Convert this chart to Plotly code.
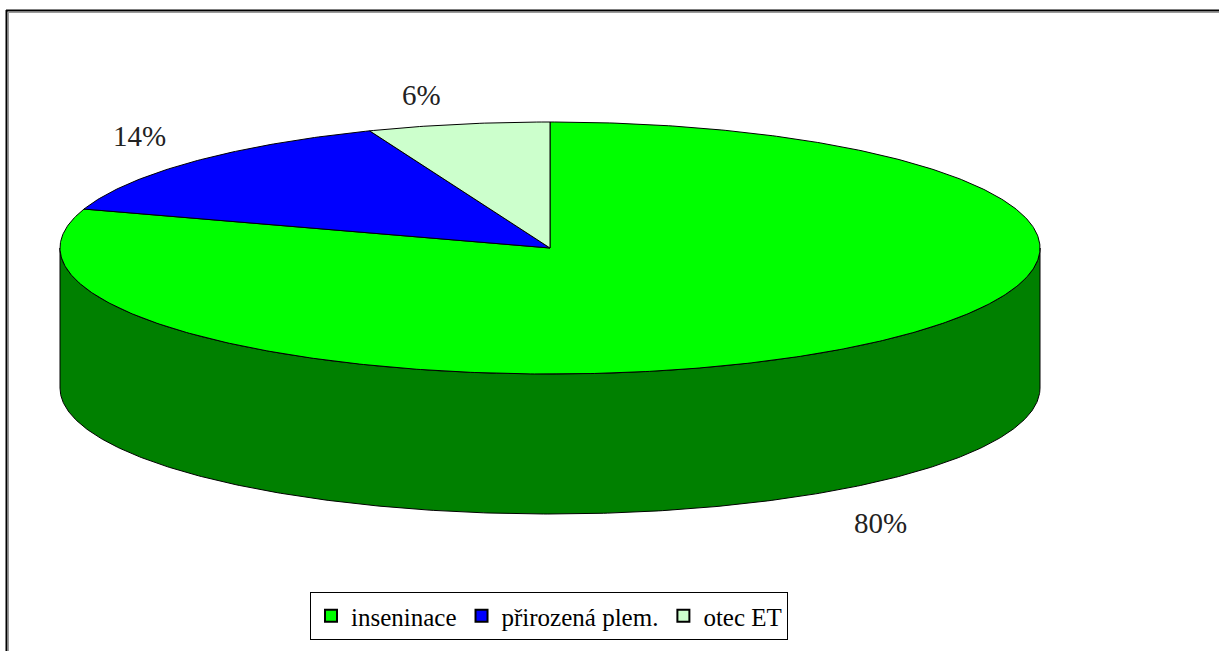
import numpy as np
import plotly.graph_objects as go

# ---- data ----
categories = ["inseninace", "přirozená plem.", "otec ET"]
values = [80, 14, 6]
colors = ["#00FF00", "#0000FF", "#CCFFCC"]
side_colors = ["#008000", "#000080", "#668066"]

# ---- layout constants (pixel space) ----
W, H = 1219, 651
CX, CY, RX, RY, DEPTH = 550, 248, 490, 126, 140
LABEL_POS = [(880, 523), (139, 136), (421, 95)]
FONT = "Liberation Serif"

total = float(sum(values))
labels = [f"{round(v / total * 100)}%" for v in values]

def arc(a0, a1, dy=0.0):
    n = max(8, int(abs(a1 - a0) * 2))
    t = np.radians(np.linspace(a0, a1, n))
    return CX + RX * np.sin(t), CY - RY * np.cos(t) + dy

fig = go.Figure()

# angles clockwise from 12 o'clock
starts, ends = [], []
acc = 0.0
for v in values:
    starts.append(acc)
    acc += v / total * 360.0
    ends.append(acc)

# side walls (front half only: 90..270 deg)
for i in range(len(values)):
    a0, a1 = max(starts[i], 90.0), min(ends[i], 270.0)
    if a0 >= a1:
        continue
    xt, yt = arc(a0, a1)
    xb, yb = arc(a1, a0, DEPTH)
    xs = np.concatenate([xt, xb, xt[:1]])
    ys = np.concatenate([yt, yb, yt[:1]])
    fig.add_trace(go.Scatter(x=xs, y=ys, mode="lines", fill="toself",
                             fillcolor=side_colors[i],
                             line=dict(color="black", width=1),
                             hoverinfo="skip", showlegend=False))

# top faces
for i in range(len(values)):
    xa, ya = arc(starts[i], ends[i])
    xs = np.concatenate([[CX], xa, [CX]])
    ys = np.concatenate([[CY], ya, [CY]])
    fig.add_trace(go.Scatter(x=xs, y=ys, mode="lines", fill="toself",
                             fillcolor=colors[i],
                             line=dict(color="black", width=1),
                             hoverinfo="skip", showlegend=False))

# legend entries
for i, c in enumerate(categories):
    fig.add_trace(go.Scatter(x=[None], y=[None], mode="markers", name=c,
                             marker=dict(symbol="square", size=15, color=colors[i],
                                         line=dict(color="black", width=1)),
                             showlegend=True))

# data labels
for (lx, ly), t in zip(LABEL_POS, labels):
    fig.add_annotation(x=lx, y=ly, text=t, showarrow=False, xref="x", yref="y",
                       font=dict(family=FONT, size=29, color="#222222"),
                       xanchor="center", yanchor="middle")

# outer frame (top and left edges only visible) with shadow, in paper coords
def px(x):
    return x / W

def py(y):
    return 1 - y / H

for (x0, y0, x1, y1, col, w) in [
    (6, 10.5, W, 10.5, "black", 2),
    (6.5, 10, 6.5, H, "black", 2),
    (8, 12.5, W, 12.5, "#999999", 1),
    (8.5, 12, 8.5, H, "#999999", 1),
]:
    fig.add_shape(type="line", x0=px(x0), y0=py(y0), x1=px(x1), y1=py(y1),
                  xref="paper", yref="paper",
                  line=dict(color=col, width=w), layer="below")

fig.update_layout(
    width=W, height=H,
    margin=dict(l=0, r=0, t=0, b=0),
    paper_bgcolor="white", plot_bgcolor="white",
    xaxis=dict(range=[0, W], visible=False, fixedrange=True, showline=False, zeroline=False),
    yaxis=dict(range=[H, 0], visible=False, fixedrange=True, showline=False, zeroline=False),
    showlegend=True,
    legend=dict(orientation="h", x=549 / W, xanchor="center",
                y=1 - 592 / H, yanchor="top",
                bordercolor="black", borderwidth=1, bgcolor="white",
                font=dict(family=FONT, size=25, color="black"),
                itemsizing="constant", tracegroupgap=0),
)

fig.write_html(
    "out.html",
    config={"displayModeBar": False},
    post_script=(
        "document.body.style.margin='0';"
        "document.body.style.overflow='hidden';"
    ),
)
